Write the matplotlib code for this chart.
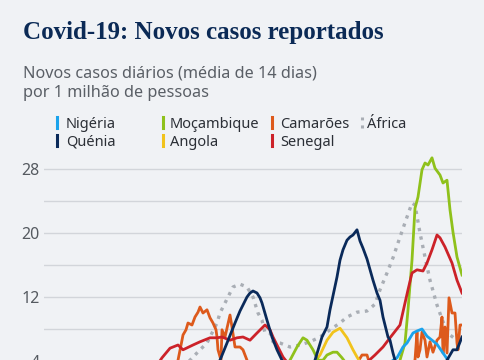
import matplotlib
matplotlib.use('Agg')
import matplotlib.pyplot as plt
from matplotlib.lines import Line2D

# 新增病例（14天平均，每百万人），x = 自 2020-01-10 起的天数
dias_nigeria = [0, 156, 206, 256, 306, 336, 349, 353, 359, 363, 369, 373, 378, 383, 389, 393, 399, 404, 411, 418]
val_nigeria = [0, 0.4, 1.0, 0.6, 1.0, 2.25, 4.1, 4.4, 5.75, 6.25, 7.5, 7.75, 8.0, 7.1, 6.5, 6.1, 5.0, 4.1, 2.9, 2.25]

dias_quenia = [0, 106, 156, 171, 176, 183, 191, 196, 203, 206, 209, 213, 216, 218, 223, 228, 233, 238,
               246, 256, 266, 271, 278, 283, 286, 293, 296, 299, 303, 306, 309, 313, 316, 319, 323,
               329, 333, 336, 339, 344, 346, 349, 351, 361, 376, 396, 403, 409, 413, 418]
val_quenia = [0, 0.4, 1.9, 3.4, 4.1, 6.25, 8.75, 10.25, 12.0, 12.5, 12.75, 12.5, 11.9, 11.25, 9.1, 7.0, 5.4, 4.1,
              2.6, 2.1, 3.1, 4.1, 7.0, 8.25, 10.4, 14.5, 16.6, 17.9, 19.1, 19.5, 19.75, 20.4, 19.0, 18.1, 16.75,
              14.1, 12.5, 11.6, 9.5, 7.0, 6.6, 5.0, 4.1, 2.25, 1.6, 2.9, 4.1, 5.4, 5.4, 7.0]

dias_mocambique = [0, 156, 216, 236, 246, 253, 259, 263, 269, 274, 279, 283, 289, 293, 298, 301, 326, 351,
                   356, 361, 364, 368, 371, 374, 378, 381, 384, 388, 391, 396, 399, 403, 406, 409, 413, 418]
val_mocambique = [0, 0.1, 1.0, 2.6, 4.1, 5.75, 6.9, 6.6, 5.4, 4.1, 4.1, 4.75, 5.1, 5.1, 4.4, 3.9, 2.25, 3.1,
                  4.1, 6.25, 10.4, 16.6, 23.1, 24.5, 27.9, 28.75, 28.5, 29.4, 28.1, 27.25, 26.25, 26.6, 22.9, 20.1, 17.0, 14.75]

dias_angola = [0, 156, 236, 266, 276, 283, 289, 296, 303, 309, 313, 318, 346, 376, 418]
val_angola = [0, 0.1, 1.6, 3.1, 4.75, 6.6, 7.6, 8.1, 6.9, 5.4, 4.5, 3.5, 2.25, 1.9, 1.4]

dias_camaroes = [0, 96, 126, 134, 138, 139, 142, 144, 148, 151, 154, 156, 159, 163, 166, 169, 172, 173, 174,
                 177, 178, 181, 186, 188, 191, 196, 199, 203, 208, 226, 256, 296, 314, 318, 323, 326, 351,
                 366, 371, 373, 374, 376, 378, 381, 383, 386, 389, 393, 396, 398, 399, 401, 403, 405, 408,
                 411, 413, 414, 416, 418]
val_camaroes = [0, 0.4, 1.6, 4.1, 6.6, 7.25, 7.9, 8.75, 8.5, 9.5, 10.1, 10.75, 10.0, 10.4, 9.4, 8.75, 7.9, 7.0, 5.4,
                4.1, 7.9, 7.0, 9.75, 8.25, 5.75, 5.75, 5.4, 4.1, 2.6, 1.9, 1.4, 2.25, 3.9, 4.75, 4.75, 3.5, 2.25,
                3.1, 4.1, 7.6, 4.5, 5.4, 7.6, 6.6, 4.5, 6.4, 5.1, 6.6, 7.0, 9.5, 5.0, 8.25, 5.0, 11.9, 10.0,
                10.0, 6.25, 5.4, 8.5, 8.5]

dias_senegal = [0, 76, 106, 118, 126, 134, 139, 149, 156, 166, 173, 178, 186, 193, 199, 206, 213, 221, 226,
                229, 239, 251, 276, 306, 331, 339, 346, 356, 361, 364, 368, 373, 379, 383, 388, 393, 396,
                401, 408, 413, 418]
val_senegal = [0, 0.6, 2.2, 4.4, 5.6, 6.0, 5.4, 6.0, 6.4, 6.9, 6.9, 7.0, 6.6, 6.9, 7.0, 6.6, 7.5, 8.5, 7.9,
               7.0, 4.5, 2.6, 1.6, 1.9, 4.75, 5.75, 6.9, 8.5, 11.25, 12.9, 15.0, 15.4, 15.25, 16.25, 17.9, 19.75, 19.4,
               18.25, 16.25, 14.1, 12.5]

dias_africa = [0, 76, 116, 136, 146, 156, 163, 166, 173, 176, 183, 189, 196, 203, 209, 214, 218, 221, 226, 229,
               236, 246, 256, 266, 276, 286, 296, 303, 313, 323, 331, 336, 343, 349, 356, 363, 368, 371, 376,
               381, 386, 393, 399, 406, 413, 416]
val_africa = [0, 0.4, 1.6, 2.9, 4.1, 5.4, 6.25, 7.0, 8.75, 10.0, 11.75, 13.25, 13.6, 13.25, 12.0, 10.0, 9.1, 7.5, 7.5, 6.4,
              6.25, 5.75, 6.0, 6.4, 7.0, 7.9, 8.75, 9.5, 10.1, 10.25, 11.1, 12.9, 15.0, 16.9, 19.5, 22.0, 23.75, 23.5, 20.0,
              17.0, 14.1, 11.0, 8.9, 7.25, 6.6, 6.4]

y_ticks = [4, 12, 20, 28]
y_grid = [0, 4, 8, 12, 16, 20, 24, 28]

BG = '#f0f2f5'
W, H = 485, 360

fig = plt.figure(figsize=(W / 100, H / 100), dpi=100, facecolor=BG)

# 绘图区：底部超出画布（原图被裁切）
ax = fig.add_axes([44 / W, (H - 393) / H, 418 / W, 240 / H], facecolor=BG)

ax.plot(dias_africa, val_africa, color='#a9aeb5', linewidth=2.4, linestyle=(0, (1, 1.6)),
        dash_capstyle='butt', zorder=2)
ax.plot(dias_camaroes, val_camaroes, color='#dd5a1c', linewidth=2.0, zorder=3)
ax.plot(dias_senegal, val_senegal, color='#cc2229', linewidth=2.0, zorder=4)
ax.plot(dias_quenia, val_quenia, color='#0a2a5a', linewidth=2.0, zorder=4)
ax.plot(dias_angola, val_angola, color='#f1c31c', linewidth=2.0, zorder=3)
ax.plot(dias_mocambique, val_mocambique, color='#8fc11b', linewidth=2.0, zorder=3)
ax.plot(dias_nigeria, val_nigeria, color='#1aa3ec', linewidth=2.0, zorder=3)

ax.set_xlim(0, 418)
ax.set_ylim(0, 30)
for g in y_grid:
    ax.axhline(g, color='#d2d5da', linewidth=1.0, zorder=1)
ax.set_yticks(y_ticks)
ax.set_yticklabels([str(t) for t in y_ticks], fontsize=11.5, color='#555a60', family='Noto Sans')
ax.tick_params(axis='y', length=0, pad=3)
ax.set_xticks([])
for s in ax.spines.values():
    s.set_visible(False)

def fy(py):
    return 1 - py / H

fig.text(23 / W, fy(39), 'Covid-19: Novos casos reportados', fontsize=18, fontweight='bold',
         family='Liberation Serif', color='#0b2a56', va='baseline')
fig.text(23 / W, fy(78), 'Novos casos diários (média de 14 dias)', fontsize=11.7,
         family='Noto Sans', color='#5a5f66', va='baseline')
fig.text(23 / W, fy(97), 'por 1 milhão de pessoas', fontsize=11.7,
         family='Noto Sans', color='#5a5f66', va='baseline')

# 图例
legenda = [
    ('Nigéria', '#1aa3ec', 57, 66, 0, '-'),
    ('Quénia', '#0a2a5a', 57, 66, 1, '-'),
    ('Moçambique', '#8fc11b', 163, 170, 0, '-'),
    ('Angola', '#f1c31c', 163, 170, 1, '-'),
    ('Camarões', '#dd5a1c', 272, 280, 0, '-'),
    ('Senegal', '#cc2229', 272, 280, 1, '-'),
    ('África', '#a9aeb5', 362, 367, 0, ':'),
]
for nome, cor, xb, xt, linha, estilo in legenda:
    base = 128 + linha * 18
    fig.add_artist(Line2D([xb / W, xb / W], [fy(base), fy(base - 11)], color=cor,
                          linewidth=2.2, linestyle=estilo, transform=fig.transFigure))
    fig.text(xt / W, fy(base), nome, fontsize=10.5, family='Noto Sans', color='#2b2f36', va='baseline')

plt.savefig('out.png', dpi=100, facecolor=BG)
